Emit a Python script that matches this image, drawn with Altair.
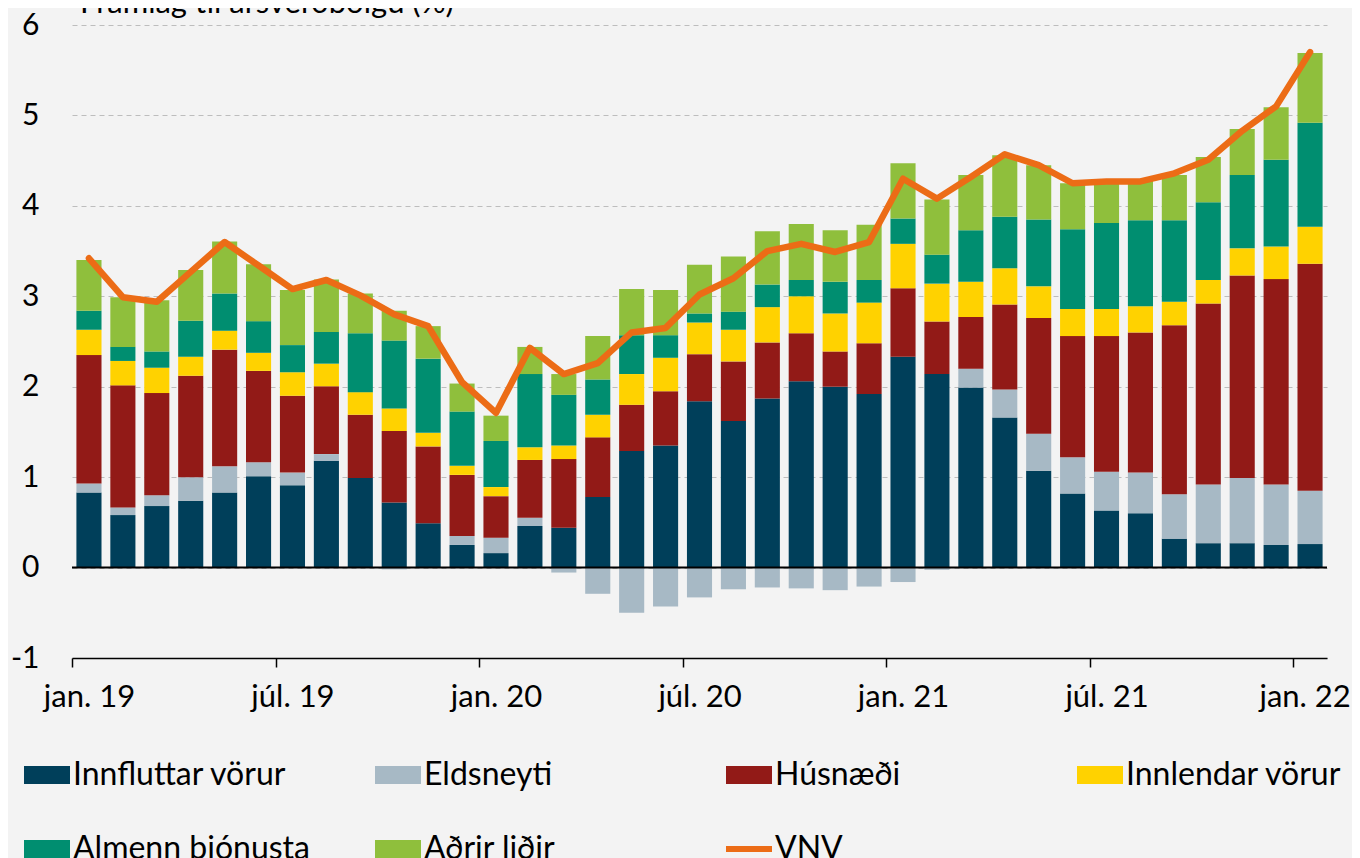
import altair as alt
import pandas as pd

months = [
    "jan. 19", "feb. 19", "mar. 19", "apr. 19", "maí 19", "jún. 19", "júl. 19", "ágú. 19", "sep. 19", "okt. 19", "nóv. 19", "des. 19",
    "jan. 20", "feb. 20", "mar. 20", "apr. 20", "maí 20", "jún. 20", "júl. 20", "ágú. 20", "sep. 20", "okt. 20", "nóv. 20", "des. 20",
    "jan. 21", "feb. 21", "mar. 21", "apr. 21", "maí 21", "jún. 21", "júl. 21", "ágú. 21", "sep. 21", "okt. 21", "nóv. 21", "des. 21",
    "jan. 22",
]
tick_months = ["jan. 19", "júl. 19", "jan. 20", "júl. 20", "jan. 21", "júl. 21", "jan. 22"]

innfluttar = [0.83, 0.58, 0.68, 0.74, 0.83, 1.01, 0.91, 1.18, 0.99, 0.72, 0.49, 0.25,
              0.16, 0.46, 0.44, 0.78, 1.29, 1.35, 1.84, 1.62, 1.87, 2.06, 2.00, 1.92,
              2.33, 2.14, 1.99, 1.66, 1.07, 0.82, 0.63, 0.60, 0.32, 0.27, 0.27, 0.25,
              0.26]
eldsneyti = [0.10, 0.085, 0.12, 0.26, 0.29, 0.155, 0.14, 0.075, 0.0, -0.02, 0.0, 0.10,
             0.17, 0.09, -0.055, -0.29, -0.50, -0.43, -0.33, -0.24, -0.22, -0.23, -0.25, -0.21,
             -0.16, -0.025, 0.21, 0.31, 0.41, 0.40, 0.43, 0.45, 0.49, 0.65, 0.72, 0.67,
             0.59]
husnaedi = [1.42, 1.35, 1.13, 1.12, 1.29, 1.01, 0.85, 0.75, 0.70, 0.79, 0.85, 0.675,
            0.46, 0.64, 0.76, 0.66, 0.51, 0.60, 0.52, 0.66, 0.62, 0.53, 0.39, 0.56,
            0.76, 0.58, 0.57, 0.94, 1.28, 1.34, 1.50, 1.55, 1.87, 2.00, 2.24, 2.27,
            2.51]
innlendar = [0.28, 0.27, 0.28, 0.21, 0.21, 0.20, 0.26, 0.25, 0.25, 0.25, 0.15, 0.10,
             0.10, 0.14, 0.15, 0.25, 0.34, 0.37, 0.35, 0.35, 0.39, 0.41, 0.42, 0.45,
             0.49, 0.42, 0.39, 0.40, 0.35, 0.30, 0.30, 0.29, 0.26, 0.26, 0.30, 0.36,
             0.41]
almenn = [0.21, 0.155, 0.18, 0.40, 0.41, 0.35, 0.30, 0.35, 0.65, 0.75, 0.82, 0.60,
          0.51, 0.81, 0.56, 0.39, 0.43, 0.25, 0.10, 0.20, 0.25, 0.18, 0.35, 0.25,
          0.28, 0.32, 0.57, 0.57, 0.74, 0.88, 0.95, 0.95, 0.90, 0.86, 0.81, 0.96,
          1.15]
adrir = [0.56, 0.55, 0.565, 0.56, 0.575, 0.63, 0.61, 0.58, 0.44, 0.33, 0.36, 0.31,
         0.28, 0.30, 0.23, 0.48, 0.51, 0.50, 0.54, 0.61, 0.59, 0.62, 0.57, 0.61,
         0.61, 0.61, 0.61, 0.68, 0.60, 0.51, 0.46, 0.44, 0.50, 0.50, 0.51, 0.58,
         0.77]
vnv = [3.42, 2.99, 2.94, 3.27, 3.60, 3.34, 3.08, 3.18, 3.01, 2.80, 2.67, 2.05,
       1.71, 2.43, 2.14, 2.26, 2.60, 2.65, 3.02, 3.20, 3.50, 3.58, 3.49, 3.60,
       4.30, 4.08, 4.32, 4.57, 4.45, 4.25, 4.27, 4.27, 4.36, 4.51, 4.83, 5.10,
       5.70]

series_names = ["Innfluttar vörur", "Eldsneyti", "Húsnæði", "Innlendar vörur", "Almenn þjónusta", "Aðrir liðir"]
series_values = [innfluttar, eldsneyti, husnaedi, innlendar, almenn, adrir]
series_colors = ["#003F5A", "#A7B9C5", "#921A17", "#FFD200", "#008E70", "#8FBF3C"]
line_name = "VNV"
line_color = "#EC6C16"
y_title = "Framlag til ársverðbólgu (%)"

FONT = "Lato"
FS = 31
FS_LEG = 32
FS_Y = 30

rows = []
for k, (name, vals) in enumerate(zip(series_names, series_values)):
    for m, v in zip(months, vals):
        rows.append({"month": m, "component": name, "value": v, "order": k})
bars_df = pd.DataFrame(rows)
line_df = pd.DataFrame({"month": months, "value": vnv, "component": [line_name] * len(months)})

color_scale = alt.Scale(domain=series_names + [line_name], range=series_colors + [line_color])

rect_path = "M-1,-0.39L1,-0.39L1,0.39L-1,0.39Z"
legend = alt.Legend(
    title=None,
    orient="none",
    direction="horizontal",
    legendX=-41,
    legendY=734,
    columns=4,
    gridAlign="all",
    columnPadding=53,
    rowPadding=42,
    padding=0,
    symbolType={"expr": "datum.value === 'VNV' ? 'M-1,0L1,0' : '" + rect_path + "'"},
    symbolSize=2116,
    symbolStrokeColor={"expr": "datum.value === 'VNV' ? '" + line_color + "' : 'transparent'"},
    symbolStrokeWidth={"expr": "datum.value === 'VNV' ? 6 : 0"},
    symbolOpacity=1,
    labelFont=FONT,
    labelFontSize=FS_LEG,
    labelColor="black",
    labelOffset=10,
    labelLimit=400,
)

x_enc = alt.X(
    "month:N",
    sort=months,
    title=None,
    scale=alt.Scale(paddingInner=0.26, paddingOuter=0.13),
    axis=alt.Axis(
        values=tick_months,
        bandPosition=0,
        tickOffset=-4.4,
        labelOffset={"condition": {"test": "datum.value === 'jan. 22'", "value": -1}, "value": 4.4},
        labelAngle=0,
        labelFont=FONT,
        labelFontSize=FS,
        labelColor="black",
        labelPadding=15,
        tickSize=9,
        tickColor="black",
        tickWidth=1.5,
        domainColor="black",
        domainWidth=1.5,
        grid=False,
    ),
)

y_scale = alt.Scale(domain=[-1, 6], nice=False, zero=False)
y_axis = alt.Axis(
    values=[-1, 0, 1, 2, 3, 4, 5, 6],
    labelExpr="'' + datum.value",
    labelFont=FONT,
    labelFontSize=FS_Y,
    labelColor="black",
    labelPadding=33,
    ticks=False,
    domain=False,
    grid=True,
    gridColor="#BDBDBD",
    gridDash=[5, 4],
    gridWidth=1,
)

bars = alt.Chart(bars_df).mark_bar().encode(
    x=x_enc,
    y=alt.Y("value:Q", stack="zero", scale=y_scale, axis=y_axis, title=None),
    color=alt.Color("component:N", scale=color_scale, legend=legend),
    order=alt.Order("order:Q", sort="ascending"),
)

line = alt.Chart(line_df).mark_line(strokeWidth=6.5, strokeCap="round", strokeJoin="round").encode(
    x=alt.X("month:N", sort=months),
    y=alt.Y("value:Q"),
    color=alt.Color("component:N", scale=color_scale, legend=legend),
)

zero = alt.Chart(alt.Data(values=[{"v": 0}])).mark_rule(color="black", strokeWidth=2).encode(
    y=alt.Y("v:Q")
)

title_text = alt.Chart(alt.Data(values=[{"t": y_title}])).mark_text(
    align="left", baseline="alphabetic", font=FONT, fontSize=FS, color="black"
).encode(
    x=alt.value(8),
    y=alt.value(-12),
    text="t:N",
)

chart = alt.layer(bars, zero, line, title_text).properties(
    width=1255,
    height=633,
    padding={"left": 64, "top": 17, "right": 25, "bottom": 200},
    autosize=alt.AutoSizeParams(type="none"),
    background="#F3F3F3",
).configure_view(stroke=None)

chart.save("out.html", embed_options={"renderer": "svg", "actions": False})
